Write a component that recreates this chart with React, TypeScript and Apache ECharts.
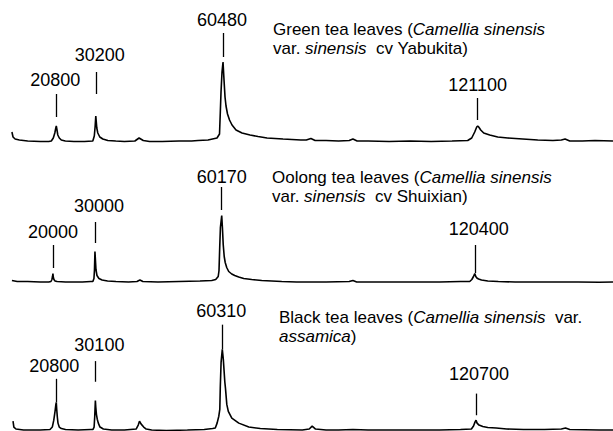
import React, { useEffect, useRef } from "react";
import * as echarts from "echarts";

// Spectra: [m/z, relative intensity]
const greenSpectrum: [number, number][] = [
  [10240, 10], [10500, 5], [11000, 3], [12000, 2], [14000, 1], [17000, 0.5], [19000, 0.5],
  [19610, 1], [20086, 4], [20443, 9], [20681, 14], [20800, 16], [20967, 12], [21157, 7], [21514, 4], [21990, 2], [22943, 1],
  [25000, 0.5], [27500, 0.5],
  [29486, 1], [29843, 6], [30033, 15], [30200, 26], [30319, 20], [30438, 14], [30676, 9], [31152, 5], [31867, 3], [33057, 1.5], [34962, 1],
  [37000, 0.5], [39500, 1], [40500, 4], [41500, 1.5], [43000, 0.5], [46000, 0.5], [50000, 1], [53000, 1],
  [54528, 1.5], [56909, 2], [59051, 4], [59647, 8], [59837, 30], [60004, 50], [60242, 70], [60480, 80], [60718, 62], [60956, 45],
  [61194, 36], [61551, 28], [62028, 22], [62623, 17], [63575, 12], [65004, 9], [66909, 7], [68813, 5.5], [70956, 4], [74766, 3], [79000, 2],
  [80300, 2], [81400, 3.5], [82400, 1.5], [85000, 1.5], [88000, 1], [90500, 1.5], [91400, 3], [92400, 1], [95000, 1],
  [100000, 0.5], [105000, 1], [110000, 0.5], [115000, 1],
  [118719, 1.5], [119671, 4], [120386, 10], [120862, 15], [121100, 16], [121338, 15], [121814, 12], [122529, 9], [123957, 7],
  [125862, 5], [128243, 4], [131814, 3], [135386, 2], [139000, 1.5], [141000, 2], [141900, 3], [143000, 1], [146000, 1], [149000, 1.5], [153300, 1],
];

const oolongSpectrum: [number, number][] = [
  [10240, 2], [11500, 1], [14000, 1], [17000, 0.5], [19000, 0.5], [19520, 1], [19760, 3], [19900, 6], [20000, 9], [20100, 5],
  [20240, 3], [20500, 1.5], [21000, 1], [23000, 0.5], [27000, 0.5], [29000, 1],
  [29500, 1], [29760, 4], [29880, 12], [30000, 31], [30120, 22], [30240, 13], [30480, 7], [30950, 4], [31700, 2.5], [33000, 1.5], [35000, 1],
  [38000, 0.5], [40000, 1], [40700, 2.5], [41400, 1], [45000, 0.5], [50000, 1], [55000, 1.5],
  [57800, 2], [58741, 3], [59337, 6], [59527, 12], [59694, 35], [59860, 55], [60170, 67], [60337, 55], [60527, 38], [60765, 26],
  [61003, 20], [61360, 15], [61837, 11], [62551, 8.5], [63265, 7], [64218, 5.5], [65408, 4], [67313, 3], [69694, 2], [74456, 1],
  [78000, 0.5], [85000, 0.5], [90500, 1], [91400, 2], [92300, 0.5], [98000, 0.5], [105000, 0.5], [112000, 0.5], [117000, 1],
  [119200, 1], [119700, 3], [120100, 6], [120400, 9], [120640, 6], [120900, 4.5], [121300, 3.5], [122000, 2.5], [123500, 1.5],
  [126000, 1], [130000, 0.5], [135000, 0.5], [140000, 0.5], [145000, 0.5], [150000, 0.3], [153300, 0.5],
];

const blackSpectrum: [number, number][] = [
  [10500, 10], [10700, 4], [11200, 2], [13000, 1], [17000, 1], [19300, 1.5], [19850, 4], [20200, 11], [20500, 20], [20700, 27],
  [20800, 29], [20900, 22], [21050, 14], [21200, 8], [21500, 4], [22000, 2.5], [23000, 1.5], [26000, 1], [29000, 1.5],
  [29500, 1.5], [29800, 4], [29950, 15], [30100, 31], [30200, 24], [30350, 17], [30550, 12], [30800, 8], [31200, 4], [32000, 2], [34000, 1],
  [37000, 1], [39800, 2], [40300, 6], [40600, 10], [41000, 7], [41600, 4], [42200, 2], [43500, 1], [47000, 0.5], [52000, 1], [56000, 1.5],
  [58000, 2.5], [58643, 3], [59072, 8], [59477, 15], [59715, 22], [59834, 45], [60024, 70], [60310, 83], [60548, 73], [60905, 50],
  [61072, 43], [61381, 27], [61739, 20], [62572, 13], [64239, 8], [66620, 4], [69358, 2.5], [73405, 1.5], [79358, 1],
  [81000, 2], [81700, 5], [82500, 2], [85000, 1], [88000, 1], [91400, 1.5], [95000, 1], [105000, 1], [112000, 1], [117000, 1.5],
  [119600, 2], [120100, 5], [120450, 9], [120700, 11], [120950, 8], [121400, 6], [122300, 4.5], [123500, 3.5], [125500, 3],
  [128000, 2], [132000, 1.5], [137000, 1.5], [141000, 2], [142000, 3], [143000, 1.5], [150000, 1], [153300, 1],
];

// Peak annotations: m/z, tick from / to (intensity units)
const greenPeaks = [20800, 30200, 60480, 121100];
const greenTickFrom = [25, 48, 85, 22];
const greenTickTo = [48, 70, 109, 44];

const oolongPeaks = [20000, 30000, 60170, 120400];
const oolongTickFrom = [14.5, 39.5, 72.5, 9.5];
const oolongTickTo = [37.5, 60.5, 95.5, 37.5];

const blackPeaks = [20800, 30100, 60310, 120700];
const blackTickFrom = [29, 50, 83, 16];
const blackTickTo = [53, 71, 108, 38];

const titles = [
  "{n|Green tea leaves (}{i|Camellia sinensis}\n{n|var. }{i|sinensis}{n|  cv Yabukita)}",
  "{n|Oolong tea leaves (}{i|Camellia sinensis}\n{n|var. }{i|sinensis}{n|  cv Shuixian)}",
  "{n|Black tea leaves (}{i|Camellia sinensis}{n|  var.}\n{i|assamica}{n|)}",
];

const FONT = "'Liberation Sans', Arial, Helvetica, sans-serif";
const FS = 18;
const TFS = 17;
const TLH = 19;

function makeMarks(peaks: number[], from: number[], to: number[], dist: number[], offs: number[]) {
  return peaks.map((p, i) => [
    {
      name: String(p),
      coord: [p, from[i]],
      label: { distance: dist[i], offset: [offs[i], 0] },
    },
    { coord: [p, to[i]] },
  ]);
}

export default function App() {
  const ref = useRef<HTMLDivElement>(null);
  useEffect(() => {
    if (!ref.current) return;
    const chart = echarts.init(ref.current, undefined, { renderer: "svg" });
    const xMin = 7400;
    const xMax = 153300;
    const grids = [
      { left: 0, right: 0, top: 12, height: 130 },
      { left: 0, right: 0, top: 152.5, height: 130 },
      { left: 0, right: 0, top: 303, height: 130 },
    ];
    const mkSeries = (idx: number, data: [number, number][], marks: any) => ({
      type: "line",
      xAxisIndex: idx,
      yAxisIndex: idx,
      data,
      showSymbol: false,
      symbol: "none",
      clip: false,
      lineStyle: { color: "#000", width: 1.6 },
      markLine: {
        silent: true,
        symbol: ["none", "none"],
        lineStyle: { color: "#000", width: 1.3, type: "solid" },
        label: {
          show: true,
          position: "end",
          formatter: "{b}",
          color: "#000",
          fontSize: FS,
          fontFamily: FONT,
        },
        data: marks,
      },
    });
    chart.setOption({
      animation: false,
      backgroundColor: "#fff",
      title: titles.map((t, i) => ({
        text: t,
        left: [273, 272, 279][i],
        top: [19.5, 168, 308][i],
        padding: 0,
        textStyle: {
          fontSize: TFS,
          fontWeight: "normal",
          fontFamily: FONT,
          color: "#000",
          lineHeight: TLH,
          rich: {
            n: { fontSize: TFS, fontFamily: FONT, color: "#000", lineHeight: TLH },
            i: { fontSize: TFS, fontFamily: FONT, color: "#000", fontStyle: "italic", lineHeight: TLH },
          },
        },
      })),
      grid: grids,
      xAxis: grids.map((_, i) => ({ type: "value", gridIndex: i, min: xMin, max: xMax, show: false })),
      yAxis: grids.map((_, i) => ({ type: "value", gridIndex: i, min: 0, max: 130, show: false })),
      series: [
        mkSeries(0, greenSpectrum, makeMarks(greenPeaks, greenTickFrom, greenTickTo, [5, 8, 4, 4], [-1, 4, -1, 0])),
        mkSeries(1, oolongSpectrum, makeMarks(oolongPeaks, oolongTickFrom, oolongTickTo, [4, 7, 1, 7], [0, 4, 0, 4])),
        mkSeries(2, blackSpectrum, makeMarks(blackPeaks, blackTickFrom, blackTickTo, [4, 7, 5, 11], [-2, 4, -1, 3])),
      ],
    });
    return () => chart.dispose();
  }, []);
  return (
    <div
      ref={ref}
      style={{ position: "fixed", left: 0, top: 0, width: 613, height: 431, background: "#fff" }}
    />
  );
}
